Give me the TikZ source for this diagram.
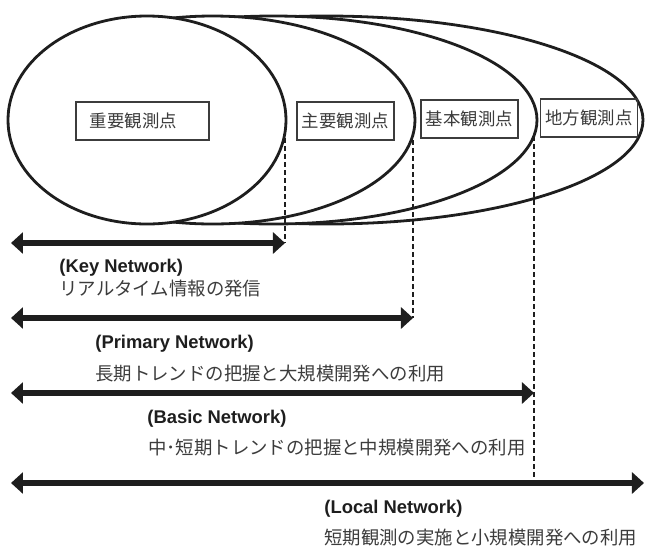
\documentclass[tikz,border=0pt]{standalone}
\usepackage{fontspec}
\setmainfont{Liberation Sans}
\newfontfamily\jafont{Noto Sans CJK JP}
\usetikzlibrary{arrows.meta,positioning}
\definecolor{Ink}{HTML}{1E1E1E}
\definecolor{Grey}{HTML}{3C3C3C}

\begin{document}
\begin{tikzpicture}[x=0.5pt,y=-0.5pt,
 zone/.style={draw=Ink,line width=1.4pt,fill=white},
 tag/.style={draw=Grey,line width=0.6pt,font=\jafont\fontsize{8.7}{10}\selectfont,text=Grey,
   minimum width=48.5pt,minimum height=19pt,inner sep=0pt},
 span/.style={{Triangle[length=6pt,width=10.5pt]}-{Triangle[length=6pt,width=10.5pt]},line width=3pt,draw=Ink},
 guide/.style={dash pattern=on 2.5pt off 1.5pt,line width=0.6pt,draw=Ink},
 netname/.style={anchor=west,inner sep=0pt,font=\bfseries\fontsize{9.2}{11}\selectfont,text=Ink},
 note/.style={anchor=west,inner sep=0pt,font=\jafont\fontsize{9.2}{11}\selectfont,text=Grey}]
\useasboundingbox (0,0) rectangle (645,559);
% nested observation zones, widest first
\draw[zone] (326.5,120) ellipse [x radius=316.5,y radius=104];
\draw[zone] (273.5,120) ellipse [x radius=263.5,y radius=104];
\draw[zone] (212.5,120) ellipse [x radius=202.5,y radius=104];
\draw[zone] (147,120) ellipse [x radius=139,y radius=104];
\node[tag,minimum width=0pt,text width=52.5pt,inner xsep=7pt,align=left] (key) at (142.5,121) {重要観測点};
\node[tag] (primary) at (345.5,121) {主要観測点};
\node[tag] (basic) at (469.5,119) {基本観測点};
\node[tag] (local) at (589,118) {地方観測点};
\coordinate (keyEdge) at (285,138);
\coordinate (priEdge) at (413,140);
\coordinate (basEdge) at (534,136);
\coordinate (keyL) at (11,243);\coordinate (keyR) at (285,243);
\coordinate (priL) at (11,318);\coordinate (priR) at (413,318);
\coordinate (basL) at (11,393);\coordinate (basR) at (534,393);
\coordinate (locL) at (11,483);\coordinate (locR) at (644,483);
\draw[guide] (keyEdge)--(keyR);
\draw[guide] (priEdge)--(priR);
\draw[guide] (basEdge)--(basR|-locR);
\draw[span] (keyL)--(keyR);
\draw[span] (priL)--(priR);
\draw[span] (basL)--(basR);
\draw[span] (locL)--(locR);
\node[netname] (keyName) at (59,268) {(Key Network)};
\node[note] (keyNote) at (59,289) {リアルタイム情報の発信};
\node[netname] (priName) at (95,344) {(Primary Network)};
\node[note] (priNote) at (95,374) {長期トレンドの把握と大規模開発への利用};
\node[netname] (basName) at (147,419) {(Basic Network)};
\node[note] (basNote) at (148,448) {中･短期トレンドの把握と中規模開発への利用};
\node[netname] (locName) at (324,509) {(Local Network)};
\node[note] (locNote) at (324,538) {短期観測の実施と小規模開発への利用};
\end{tikzpicture}
\end{document}
